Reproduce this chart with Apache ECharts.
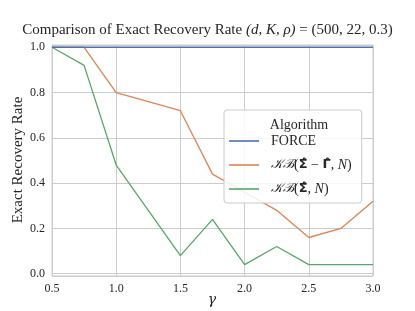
<!DOCTYPE html>
<html><head><meta charset="utf-8">
<script src="https://cdn.jsdelivr.net/npm/echarts@6/dist/echarts.min.js"></script>
<style>html,body{margin:0;padding:0;background:#fff}#c{width:415px;height:311px}</style>
</head><body><div id="c"></div>
<script>
const gammas = [0.5, 0.75, 1.0, 1.25, 1.5, 1.75, 2.0, 2.25, 2.5, 2.75, 3.0];
const force = [1, 1, 1, 1, 1, 1, 1, 1, 1, 1, 1];
const kbDiff = [1.0, 1.0, 0.80, 0.76, 0.72, 0.44, 0.36, 0.28, 0.16, 0.20, 0.32];
const kbSigma = [1.0, 0.92, 0.48, 0.28, 0.08, 0.24, 0.04, 0.12, 0.04, 0.04, 0.04];
const seriesNames = ['FORCE', 'KB(Σ − Γ, N)', 'KB(Σ, N)'];
const legendLabels = {
  'FORCE': 'FORCE',
  'KB(Σ − Γ, N)': '{c|𝒦ℬ}({b|Σ\u0302} − {b|Γ\u0302}, {i|N})',
  'KB(Σ, N)': '{c|𝒦ℬ}({b|Σ\u0302}, {i|N})'
};
const colors = ['#4c72b0', '#dd8452', '#55a868'];
const yAxisTitle = 'Exact Recovery Rate';
const xAxisTitle = 'γ';

const FONT = '"Liberation Serif", "DejaVu Serif", serif';
const TXT = '#262626';
const pair = (ys) => gammas.map((g, i) => [g, ys[i]]);
const chart = echarts.init(document.getElementById('c'), null, {renderer: 'canvas'});
chart.setOption({
  animation: false,
  backgroundColor: '#fff',
  textStyle: {fontFamily: FONT},
  title: [{
    text: 'Comparison of Exact Recovery Rate {i|(d, K, ρ)} = (500, 22, 0.3)',
    left: 'center', top: 18,
    textStyle: {fontFamily: FONT, fontSize: 15, fontWeight: 'normal', color: TXT,
      rich: {i: {fontFamily: FONT, fontSize: 15, fontStyle: 'italic', color: TXT}}}
  }, {
    text: 'Algorithm', left: 294, top: 113, textAlign: 'center',
    textStyle: {fontFamily: FONT, fontSize: 14, fontWeight: 'normal', color: TXT}
  }],
  graphic: [{
    type: 'text', x: 18, y: 160, rotation: Math.PI / 2,
    style: {text: yAxisTitle, font: '15px ' + FONT, fill: TXT, align: 'center', verticalAlign: 'middle'}
  }, {
    type: 'text', x: 212, y: 300,
    style: {text: xAxisTitle, font: 'italic 14px "DejaVu Serif", serif', fill: TXT, align: 'center', verticalAlign: 'middle'}
  }],
  grid: {left: 52, right: 42, top: 45, bottom: 35, show: true, borderColor: '#cccccc', borderWidth: 1,
    outerBoundsMode: 'none', containLabel: false},
  legend: {
    data: seriesNames, orient: 'vertical', left: 224, top: 110, width: 142,
    padding: [23, 10, 6, 5], itemGap: 8, itemWidth: 30, itemHeight: 16,
    backgroundColor: 'rgba(255,255,255,0.85)', borderColor: '#cccccc', borderWidth: 1, borderRadius: 3,
    formatter: n => legendLabels[n],
    textStyle: {fontFamily: FONT, fontSize: 14, color: TXT, padding: [0, 0, 0, 7], lineHeight: 16,
      rich: {
        c: {fontFamily: FONT, fontSize: 13, fontStyle: 'italic', color: TXT, lineHeight: 16},
        b: {fontFamily: '"DejaVu Sans", "Noto Sans", sans-serif', fontWeight: 'bold', fontSize: 13, color: TXT, lineHeight: 16},
        i: {fontFamily: FONT, fontSize: 14, fontStyle: 'italic', color: TXT, lineHeight: 16}
      }},
    icon: 'path://M0,7 L30,7 L30,8.6 L0,8.6 Z'
  },
  xAxis: {
    type: 'value', min: 0.5, max: 3.0, interval: 0.5,
    axisLine: {show: false}, axisTick: {show: false},
    axisLabel: {fontFamily: FONT, fontSize: 12, color: TXT, margin: 7, formatter: v => v.toFixed(1)},
    splitLine: {show: true, lineStyle: {color: '#cccccc', width: 1}}
  },
  yAxis: {
    type: 'value', min: -0.01, max: 1.01, splitNumber: 5,
    axisLine: {show: false}, axisTick: {show: false},
    axisLabel: {fontFamily: FONT, fontSize: 12, color: TXT, margin: 7,
      formatter: v => {const r = Math.round(v * 5) / 5; return Math.abs(v - r) < 1e-6 ? r.toFixed(1) : '';}},
    splitLine: {show: true, lineStyle: {color: '#cccccc', width: 1}}
  },
  series: [
    {name: seriesNames[0], type: 'line', data: pair(force), showSymbol: false, color: colors[0], lineStyle: {width: 1.5}, z: 3},
    {name: seriesNames[1], type: 'line', data: pair(kbDiff), showSymbol: false, color: colors[1], lineStyle: {width: 1.3}, z: 2},
    {name: seriesNames[2], type: 'line', data: pair(kbSigma), showSymbol: false, color: colors[2], lineStyle: {width: 1.3}, z: 2}
  ]
});
</script></body></html>
